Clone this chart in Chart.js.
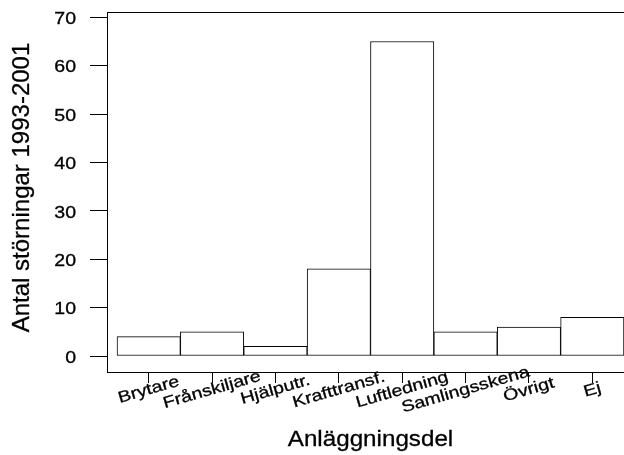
<!DOCTYPE html>
<html><head><meta charset="utf-8">
<script src="https://cdn.jsdelivr.net/npm/chart.js@4"></script>
<style>
html,body{margin:0;padding:0;background:#fff;}
#wrap{width:624px;height:455px;overflow:hidden;position:relative;background:#fff;}
canvas{display:block;}
</style></head><body>
<div id="wrap"><canvas id="c" width="644" height="455"></canvas></div>
<script>
const categories = ['Brytare', 'Frånskiljare', 'Hjälputr.', 'Krafttransf.', 'Luftledning', 'Samlingsskena', 'Övrigt', 'Ej'];
const counts = [4, 5, 2, 18, 65, 5, 6, 8];
const yTicks = [0, 10, 20, 30, 40, 50, 60, 70];
const xTitle = 'Anläggningsdel';
const yTitle = 'Antal störningar 1993-2001';

const FONT = "'Liberation Sans', Arial, sans-serif";

// draw text, widened along its own reading direction
function wideText(ctx, text, x, y, angle, size, widen, align, baseline) {
  ctx.save();
  ctx.translate(x, y);
  ctx.rotate(angle);
  ctx.scale(widen, 1);
  ctx.font = size + 'px ' + FONT;
  ctx.textAlign = align;
  ctx.textBaseline = baseline;
  ctx.fillStyle = '#000';
  ctx.strokeStyle = '#000';
  ctx.lineWidth = 0.3;
  ctx.fillText(text, 0, 0);
  ctx.strokeText(text, 0, 0);
  ctx.restore();
}

const framePlugin = {
  id: 'frameAndText',
  afterDraw(chart) {
    const { ctx, chartArea: a, scales: { x, y } } = chart;
    ctx.save();
    ctx.strokeStyle = '#000';
    ctx.lineWidth = 1;
    ctx.strokeRect(Math.round(a.left) + 0.5, Math.round(a.top) + 0.5,
                   Math.round(a.right - a.left), Math.round(a.bottom - a.top));
    ctx.restore();

    y.ticks.forEach(t => {
      wideText(ctx, String(t.value), 76, y.getPixelForValue(t.value) + 6.7, 0, 16, 1.22, 'right', 'alphabetic');
    });
    categories.forEach((c, i) => {
      wideText(ctx, c, x.getPixelForValue(i), a.bottom + 18, -16 * Math.PI / 180, 16, 1.22, 'center', 'middle');
    });
    wideText(ctx, xTitle, (a.left + a.right) / 2, 446, 0, 22, 1.1, 'center', 'alphabetic');
    wideText(ctx, yTitle, 29.3, 187.5, -Math.PI / 2, 24, 1.0, 'center', 'alphabetic');
  }
};

new Chart(document.getElementById('c'), {
  type: 'bar',
  data: {
    datasets: [{
      data: counts.map((v, i) => ({ x: i, y: v })),
      backgroundColor: '#ffffff',
      borderColor: '#000000',
      borderWidth: 1,
      borderSkipped: false,
      categoryPercentage: 1,
      barPercentage: 1
    }]
  },
  options: {
    responsive: false,
    animation: false,
    devicePixelRatio: 1,
    layout: { padding: { top: 11.7, right: 10, left: 0, bottom: 0 } },
    plugins: { legend: { display: false }, tooltip: { enabled: false } },
    scales: {
      x: {
        type: 'linear', bounds: 'data', min: -0.658, max: 7.658, offset: false,
        afterBuildTicks: s => { s.ticks = categories.map((_, i) => ({ value: i })); },
        afterFit: s => { s.height = 83; },
        ticks: { display: false },
        grid: { offset: false, drawOnChartArea: false, drawTicks: true, tickLength: 11, color: '#000', lineWidth: 1 },
        border: { display: false }
      },
      y: {
        type: 'linear', bounds: 'data', min: -3.3, max: 71.15,
        afterBuildTicks: s => { s.ticks = yTicks.map(v => ({ value: v })); },
        afterFit: s => { s.width = 107; },
        ticks: { display: false },
        grid: { drawOnChartArea: false, drawTicks: true, tickLength: 17, color: '#000', lineWidth: 1 },
        border: { display: false }
      }
    }
  },
  plugins: [framePlugin]
});
</script>
</body></html>
